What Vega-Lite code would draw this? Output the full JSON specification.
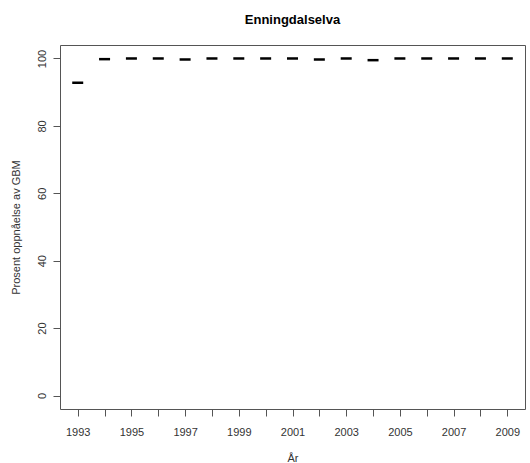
{
  "$schema": "https://vega.github.io/schema/vega-lite/v6.json",
  "autosize": "none",
  "width": 465,
  "height": 364,
  "padding": {"left": 60, "top": 45, "right": 5, "bottom": 54},
  "background": "white",
  "title": {"text": "Enningdalselva", "font": "Liberation Sans", "fontSize": 13, "fontWeight": "bold", "color": "black", "anchor": "middle", "offset": 18},
  "config": {
    "view": {"stroke": "#555", "strokeWidth": 1},
    "axis": {"labelFont": "Liberation Sans", "titleFont": "Liberation Sans", "labelFontSize": 11, "titleFontSize": 11, "labelColor": "#333", "titleColor": "#333", "titleFontWeight": "normal", "grid": false, "domain": false, "tickColor": "#555", "tickSize": 7}
  },
  "data": {"values": [
    {"year": 1993, "pct": 92.8},
    {"year": 1994, "pct": 99.8},
    {"year": 1995, "pct": 100},
    {"year": 1996, "pct": 100},
    {"year": 1997, "pct": 99.7},
    {"year": 1998, "pct": 100},
    {"year": 1999, "pct": 100},
    {"year": 2000, "pct": 100},
    {"year": 2001, "pct": 100},
    {"year": 2002, "pct": 99.7},
    {"year": 2003, "pct": 100},
    {"year": 2004, "pct": 99.5},
    {"year": 2005, "pct": 100},
    {"year": 2006, "pct": 100},
    {"year": 2007, "pct": 100},
    {"year": 2008, "pct": 100},
    {"year": 2009, "pct": 100}
  ]},
  "mark": {"type": "tick", "orient": "horizontal", "size": 11, "thickness": 2.5, "color": "black", "opacity": 1},
  "encoding": {
    "x": {"field": "year", "type": "quantitative", "scale": {"domain": [1992.34, 2009.66], "nice": false, "zero": false},
      "axis": {"title": "År", "values": [1993,1994,1995,1996,1997,1998,1999,2000,2001,2002,2003,2004,2005,2006,2007,2008,2009], "format": "d", "labelExpr": "datum.value % 2 == 1 ? datum.label : ''", "labelPadding": 10, "titlePadding": 15, "labelFlush": false, "labelOverlap": false}},
    "y": {"field": "pct", "type": "quantitative", "scale": {"domain": [-4, 104], "nice": false, "zero": false},
      "axis": {"title": "Prosent oppnåelse av GBM", "values": [0, 20, 40, 60, 80, 100], "labelAngle": 270, "labelAlign": "center", "labelBaseline": "bottom", "labelPadding": 6, "titlePadding": 15, "labelFlush": false}}
  }
}
